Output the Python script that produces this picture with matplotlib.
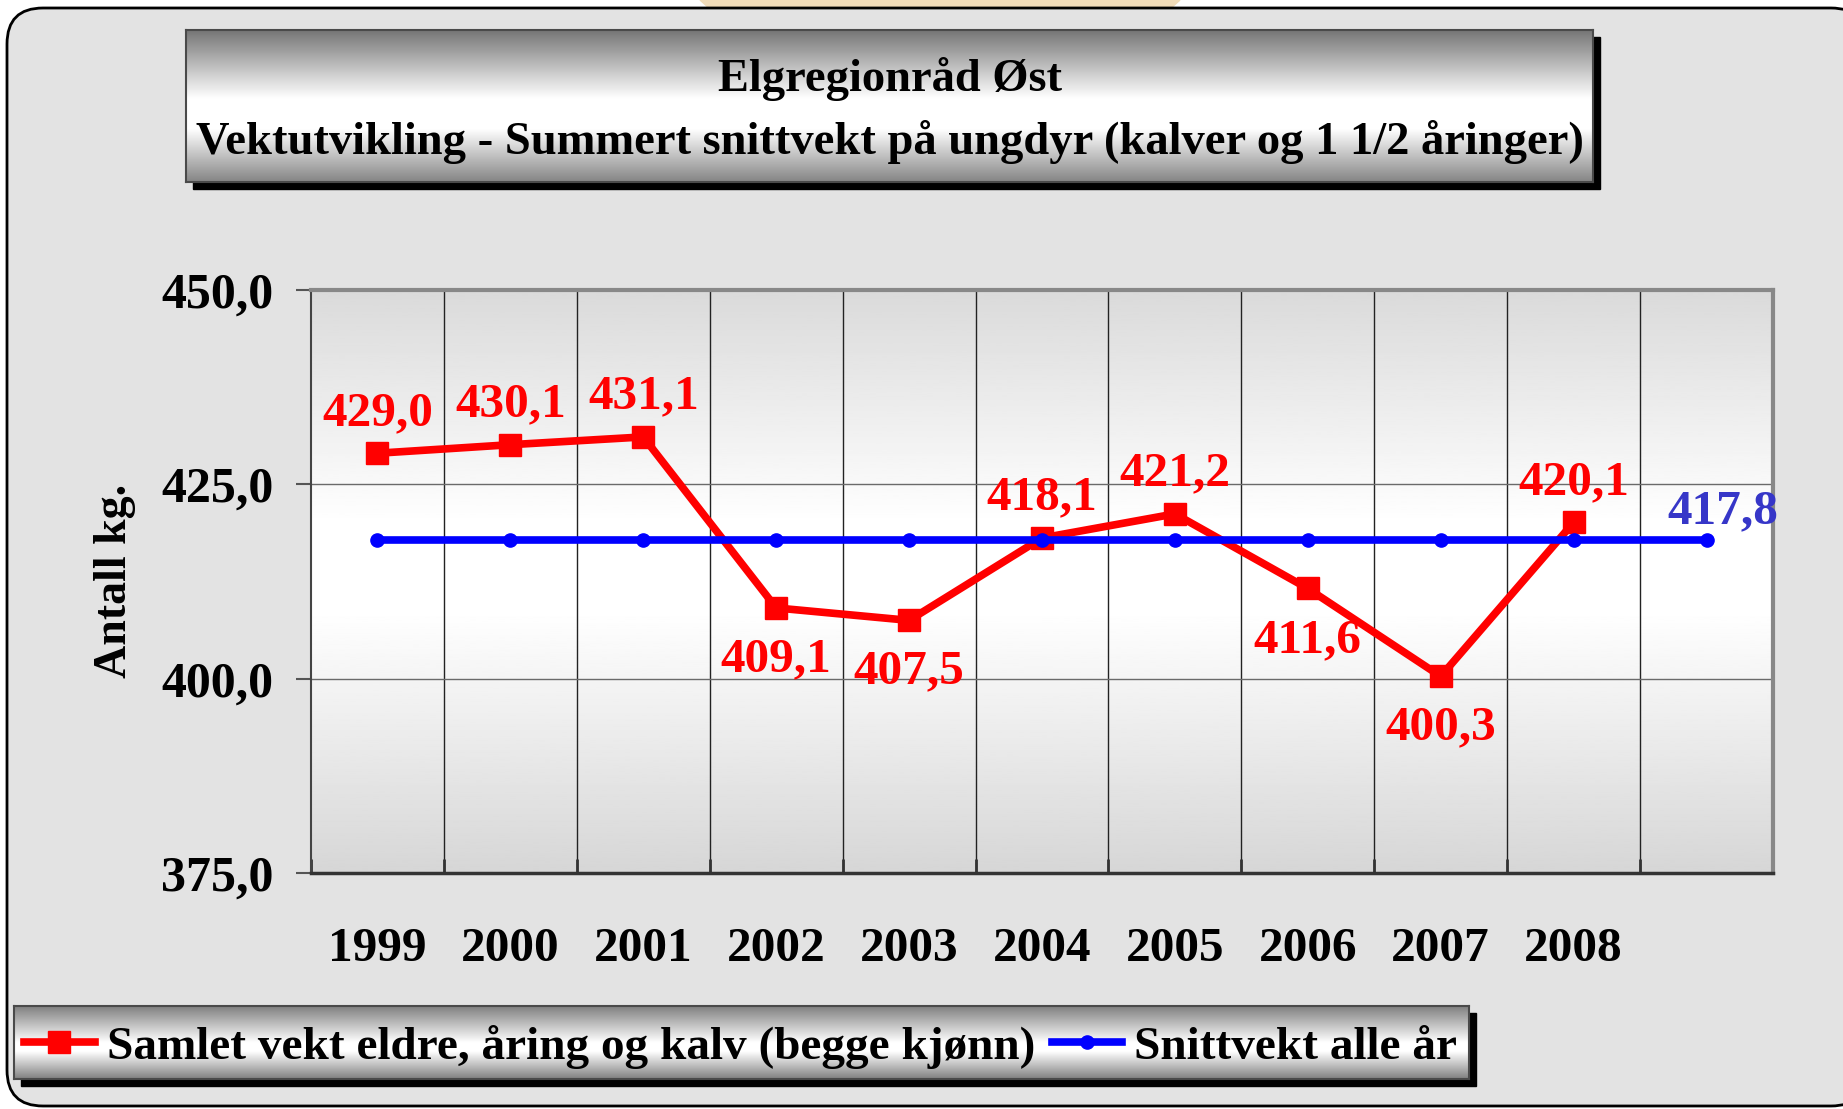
import numpy as np
import matplotlib
matplotlib.use("Agg")
import matplotlib.pyplot as plt
from matplotlib.patches import FancyBboxPatch, Rectangle, Polygon
from matplotlib.transforms import IdentityTransform

# data
years = ["1999", "2000", "2001", "2002", "2003", "2004", "2005", "2006", "2007", "2008", ""]
samlet = [429.0, 430.1, 431.1, 409.1, 407.5, 418.1, 421.2, 411.6, 400.3, 420.1]
snitt = [417.8, 417.8, 417.8, 417.8, 417.8, 417.8, 417.8, 417.8, 417.8, 417.8, 417.8]
y_ticks = [375.0, 400.0, 425.0, 450.0]
title_lines = ["Elgregionråd Øst",
               "Vektutvikling - Summert snittvekt på ungdyr (kalver og 1 1/2 åringer)"]
series_names = ["Samlet vekt eldre, åring og kalv (begge kjønn)", "Snittvekt alle år"]
y_title = "Antall kg."

W, H = 1843, 1109
plt.rcParams["font.family"] = ["Liberation Serif", "DejaVu Serif"]
plt.rcParams["font.weight"] = "bold"


def fmt(v):
    return f"{v:.1f}".replace(".", ",")


def fig_box(x0, y0, x1, y1):
    # pixel box (top-left origin) -> figure fraction
    return [x0 / W, 1 - y1 / H, (x1 - x0) / W, (y1 - y0) / H]


def shadow(fig, x0, y0, x1, y1, d=7):
    fig.add_artist(Rectangle((x0 + d, H - y1 - d), x1 - x0, y1 - y0,
                             transform=IdentityTransform(), color="black", zorder=-0.5))


def gradient_axes(fig, x0, y0, x1, y1, stops, shades):
    gax = fig.add_axes(fig_box(x0, y0, x1, y1))
    t = np.linspace(0, 1, 300)
    g = np.interp(t, stops, shades)[:, None]
    gax.imshow(g, cmap="gray", vmin=0, vmax=1, aspect="auto",
               extent=[0, 1, 0, 1], interpolation="bilinear")
    gax.set_xticks([])
    gax.set_yticks([])
    for s in gax.spines.values():
        s.set_color("#4a4a4a")
        s.set_linewidth(1.5)
    return gax


fig = plt.figure(figsize=(W / 100, H / 100), dpi=100, facecolor="white")

# faint watermark remains at the top edge
fig.add_artist(Polygon([(700, H), (1180, H), (1170, H - 9), (710, H - 9)], closed=True,
                       transform=IdentityTransform(), color="#f1dcb9", zorder=-3))

# rounded chart background
fig.add_artist(FancyBboxPatch((7, H - 1106), 1860, 1098,
                              boxstyle="round,pad=0,rounding_size=36",
                              transform=IdentityTransform(), fc="#e3e3e3", ec="black",
                              lw=2, zorder=-2))

# title box
shadow(fig, 186, 30, 1593, 182)
gradient_axes(fig, 186, 30, 1593, 182, [0, 0.45, 0.65, 1], [0.46, 1.0, 1.0, 0.52])
fig.text((186 + 1593) / 2 / W, 1 - 79 / H, title_lines[0], ha="center", va="center",
         fontsize=33.5, fontweight="bold")
fig.text((186 + 1593) / 2 / W, 1 - 142 / H, title_lines[1], ha="center", va="center",
         fontsize=33.5, fontweight="bold")

# main plot
ax = fig.add_axes(fig_box(311, 290, 1773, 873))
x = np.arange(len(years))
t = np.linspace(0, 1, 300)
bg = np.interp(t, [0, 0.4, 0.55, 1], [0.855, 1.0, 1.0, 0.84])[:, None]
ax.imshow(bg, cmap="gray", vmin=0, vmax=1, aspect="auto", origin="upper",
          extent=[-0.5, len(years) - 0.5, y_ticks[0], y_ticks[-1]], zorder=0)

ax.plot(x[:len(samlet)], samlet, color="#ff0000", lw=5.5, marker="s", ms=16,
        zorder=3, label=series_names[0])
ax.plot(x, snitt, color="#0000ff", lw=5.5, marker="o", ms=9.5, zorder=4,
        label=series_names[1])

for i, v in enumerate(samlet):
    below = i > 0 and v < samlet[i - 1]
    ax.annotate(fmt(v), (x[i], v), xytext=(0, -37 if below else 29),
                textcoords="offset points", ha="center", va="center",
                color="#ff0000", fontsize=35.5, fontweight="bold", zorder=6)
ax.annotate(fmt(snitt[-1]), (x[-1], snitt[-1]), xytext=(12, 21),
            textcoords="offset points", ha="center", va="center",
            color="#3636c8", fontsize=35.5, fontweight="bold", zorder=6)

ax.set_xlim(-0.5, len(years) - 0.5)
ax.set_ylim(y_ticks[0], y_ticks[-1])

for b in np.arange(0.5, len(years) - 0.5, 1.0):
    ax.axvline(b, color="#222222", lw=1, zorder=1)
for yv in y_ticks[1:-1]:
    ax.axhline(yv, color="#6a6a6a", lw=1, zorder=1)

ax.set_yticks(y_ticks)
ax.set_yticklabels([fmt(v) for v in y_ticks], fontsize=36, fontweight="bold")
ax.tick_params(axis="y", direction="out", length=11, width=1.5, color="#555555", pad=16)
ax.set_xticks(x)
ax.set_xticklabels(years, fontsize=35.5, fontweight="bold")
ax.tick_params(axis="x", length=0, pad=39)
ax.set_xticks(np.arange(-0.5, len(years), 1.0), minor=True)
ax.tick_params(axis="x", which="minor", direction="in", length=10, width=2, color="#333333")

ax.spines["left"].set_color("#444444")
ax.spines["left"].set_linewidth(1.5)
ax.spines["bottom"].set_color("#333333")
ax.spines["bottom"].set_linewidth(2.5)
for side in ["top", "right"]:
    ax.spines[side].set_color("#888888")
    ax.spines[side].set_linewidth(3)

fig.text(115 / W, 1 - 581 / H, y_title, rotation=90, ha="center", va="center",
         fontsize=33, fontweight="bold")

# legend box
shadow(fig, 14, 1006, 1469, 1079)
gradient_axes(fig, 14, 1006, 1469, 1079, [0, 0.5, 0.62, 1], [0.5, 1.0, 1.0, 0.5])
handles, labels = ax.get_legend_handles_labels()
leg = fig.legend(handles, labels, loc="center left", bbox_to_anchor=(24 / W, 1 - 1047 / H),
                 ncol=2, frameon=False, fontsize=34, handlelength=1.5, handletextpad=0.25,
                 columnspacing=0.35, borderpad=0, borderaxespad=0)
leg.set_zorder(10)

fig.savefig("out.png", dpi=100)
